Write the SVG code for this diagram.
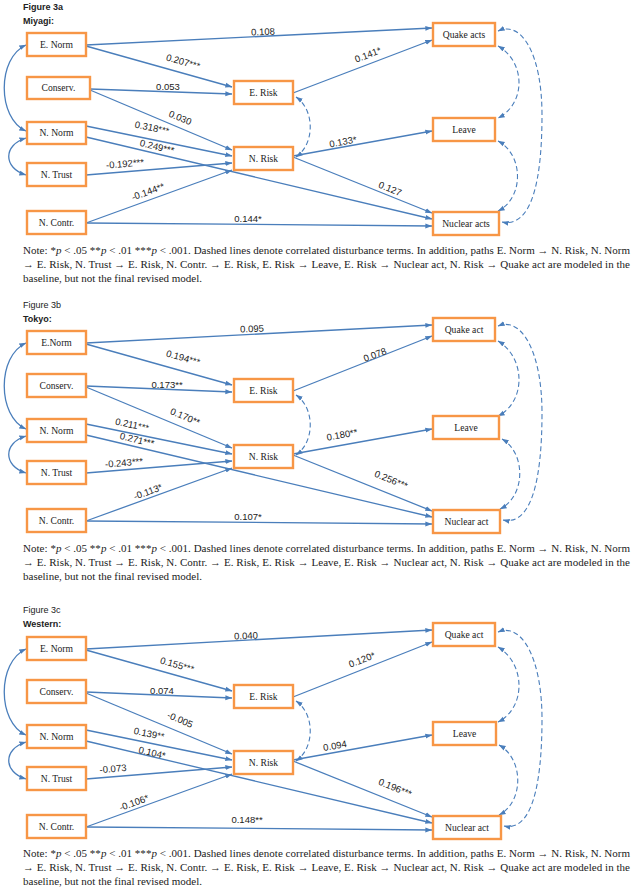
<svg xmlns="http://www.w3.org/2000/svg" width="634" height="891" viewBox="0 0 634 891">
<defs>
<marker id="ah" viewBox="0 0 10 10" refX="9.5" refY="5" markerWidth="7" markerHeight="7" markerUnits="userSpaceOnUse" orient="auto-start-reverse"><path d="M0,1.5 L10,5 L0,8.5 z" fill="#4A7EBB"/></marker>
</defs>
<style>
.box{fill:#fff;stroke:#F79646;stroke-width:2.4}
.nt{font-family:"Liberation Serif","Times New Roman",serif;font-size:9.6px;fill:#222;text-anchor:middle}
.e{fill:none;stroke:#4A7EBB;stroke-width:1.3;marker-end:url(#ah)}
.d{fill:none;stroke:#4A7EBB;stroke-width:1.1;stroke-dasharray:5 3;marker-start:url(#ah);marker-end:url(#ah)}
.c{fill:none;stroke:#4A7EBB;stroke-width:1.3;marker-start:url(#ah);marker-end:url(#ah)}
.lb{font-family:"Liberation Sans",Arial,sans-serif;font-size:9.5px;fill:#222;text-anchor:middle}
.fig{font-family:"Liberation Sans",Arial,sans-serif;font-size:9px;fill:#222}
.b{font-weight:bold}
.note{font-family:"Liberation Serif","Times New Roman",serif;font-size:11px;fill:#222}
.i{font-style:italic}
</style>
<rect width="634" height="891" fill="#fff"/>

<!-- Figure 3a -->
<g id="fig3a">
<text class="fig b" x="23" y="10">Figure 3a</text>
<text class="fig b" x="23" y="24">Miyagi:</text>
<g id="a-edges">
<path class="e" d="M86,45 L432,28"/>
<path class="e" d="M86,46 L232,87"/>
<path class="e" d="M90,89 L232,94"/>
<path class="e" d="M90,90 L232,150"/>
<path class="e" d="M86,126 L232,156"/>
<path class="e" d="M86,137 L432,219"/>
<path class="e" d="M86,175 L232,163"/>
<path class="e" d="M86,223 L232,170"/>
<path class="e" d="M86,223 L432,226"/>
<path class="e" d="M293,93 L432,40"/>
<path class="e" d="M293,156 L432,131"/>
<path class="e" d="M293,157 L432,213"/>
<path class="c" d="M26,45 C-3,58 -3,118 26,131"/>
<path class="c" d="M26,138 C3,145 3,168 26,175"/>
<path class="d" d="M296,97 C315,110 315,144 296,157"/>
<path class="d" d="M498,46 C526,62 526,104 498,118"/>
<path class="d" d="M498,141 C524,155 524,198 498,211"/>
<path class="d" d="M498,31 C522,20 542,55 542,115 C542,180 532,228 502,222"/>
<text class="lb" transform="translate(263,32) rotate(-2.8)" y="3">0.108</text>
<text class="lb" transform="translate(183,62) rotate(15.7)" y="3">0.207***</text>
<text class="lb" transform="translate(168,87)" y="3">0.053</text>
<text class="lb" transform="translate(180,118) rotate(22.9)" y="3">0.030</text>
<text class="lb" transform="translate(152,128) rotate(11.6)" y="3">0.318***</text>
<text class="lb" transform="translate(157,147) rotate(13.5)" y="3">0.249***</text>
<text class="lb" transform="translate(125,164) rotate(-4.7)" y="3">-0.192***</text>
<text class="lb" transform="translate(148,192) rotate(-20)" y="3">-0.144**</text>
<text class="lb" transform="translate(248,219)" y="3">0.144*</text>
<text class="lb" transform="translate(368,55) rotate(-20.9)" y="3">0.141*</text>
<text class="lb" transform="translate(343,142) rotate(-10.2)" y="3">0.133*</text>
<text class="lb" transform="translate(390,189) rotate(22)" y="3">0.127</text>
</g>
<g id="a-enorm"><rect class="box" x="27" y="33" width="59" height="23"/><text class="nt" x="56.5" y="48">E. Norm</text></g>
<g id="a-conserv"><rect class="box" x="27" y="77" width="63" height="22"/><text class="nt" x="58.5" y="91">Conserv.</text></g>
<g id="a-nnorm"><rect class="box" x="27" y="122" width="59" height="22"/><text class="nt" x="56.5" y="136">N. Norm</text></g>
<g id="a-ntrust"><rect class="box" x="27" y="163" width="59" height="23"/><text class="nt" x="56.5" y="178">N. Trust</text></g>
<g id="a-ncontr"><rect class="box" x="27" y="211" width="59" height="23"/><text class="nt" x="56.5" y="226">N. Contr.</text></g>
<g id="a-erisk"><rect class="box" x="234" y="81" width="59" height="23"/><text class="nt" x="263.5" y="96">E. Risk</text></g>
<g id="a-nrisk"><rect class="box" x="234" y="147" width="59" height="23"/><text class="nt" x="263.5" y="162">N. Risk</text></g>
<g id="a-quake"><rect class="box" x="433" y="23" width="62" height="23"/><text class="nt" x="464" y="38">Quake acts</text></g>
<g id="a-leave"><rect class="box" x="433" y="118" width="62" height="23"/><text class="nt" x="464" y="133">Leave</text></g>
<g id="a-nuclear"><rect class="box" x="433" y="212" width="66" height="23"/><text class="nt" x="466" y="227">Nuclear acts</text></g>
<text class="note" x="23" y="254" textLength="607" lengthAdjust="spacing">Note: *<tspan class="i">p</tspan> &lt; .05 **<tspan class="i">p</tspan> &lt; .01 ***<tspan class="i">p</tspan> &lt; .001. Dashed lines denote correlated disturbance terms. In addition, paths E. Norm → N. Risk, N. Norm</text>
<text class="note" x="23" y="268" textLength="607" lengthAdjust="spacing">→ E. Risk, N. Trust → E. Risk, N. Contr. → E. Risk, E. Risk → Leave, E. Risk → Nuclear act, N. Risk → Quake act are modeled in the</text>
<text class="note" x="23" y="282">baseline, but not the final revised model.</text>
</g>

<!-- Figure 3b -->
<g id="fig3b" transform="translate(0,298)">
<text class="fig" x="23" y="10">Figure 3b</text>
<text class="fig b" x="23" y="24">Tokyo:</text>
<g id="b-edges">
<path class="e" d="M86,45 L432,27"/>
<path class="e" d="M86,46 L232,87"/>
<path class="e" d="M86,88 L232,94"/>
<path class="e" d="M86,89 L232,150"/>
<path class="e" d="M86,126 L232,156"/>
<path class="e" d="M86,137 L432,219"/>
<path class="e" d="M86,175 L232,163"/>
<path class="e" d="M86,223 L232,170"/>
<path class="e" d="M86,223 L432,226"/>
<path class="e" d="M293,93 L432,38"/>
<path class="e" d="M293,156 L432,131"/>
<path class="e" d="M293,157 L432,213"/>
<path class="c" d="M26,45 C-3,58 -3,118 26,131"/>
<path class="c" d="M26,138 C3,145 3,168 26,175"/>
<path class="d" d="M296,97 C315,110 315,144 296,157"/>
<path class="d" d="M498,43 C526,60 526,104 498,118"/>
<path class="d" d="M502,141 C526,155 526,198 500,211"/>
<path class="d" d="M498,28 C522,18 542,55 542,115 C542,180 532,228 503,222"/>
<text class="lb" transform="translate(252,31) rotate(-2.8)" y="3">0.095</text>
<text class="lb" transform="translate(183,60) rotate(15.7)" y="3">0.194***</text>
<text class="lb" transform="translate(167,87)" y="3">0.173**</text>
<text class="lb" transform="translate(185,119) rotate(22.9)" y="3">0.170**</text>
<text class="lb" transform="translate(132,127) rotate(11.6)" y="3">0.211***</text>
<text class="lb" transform="translate(137,142) rotate(13.5)" y="3">0.271***</text>
<text class="lb" transform="translate(124,165) rotate(-4.7)" y="3">-0.243***</text>
<text class="lb" transform="translate(148,194) rotate(-20)" y="3">-0.113*</text>
<text class="lb" transform="translate(248,219)" y="3">0.107*</text>
<text class="lb" transform="translate(375,57) rotate(-20.9)" y="3">0.078</text>
<text class="lb" transform="translate(342,137) rotate(-10.2)" y="3">0.180**</text>
<text class="lb" transform="translate(391,182) rotate(22)" y="3">0.256***</text>
</g>
<g id="b-enorm"><rect class="box" x="27" y="33" width="59" height="23"/><text class="nt" x="56.5" y="48">E.Norm</text></g>
<g id="b-conserv"><rect class="box" x="27" y="76" width="59" height="23"/><text class="nt" x="56.5" y="91">Conserv.</text></g>
<g id="b-nnorm"><rect class="box" x="27" y="121" width="59" height="23"/><text class="nt" x="56.5" y="136">N. Norm</text></g>
<g id="b-ntrust"><rect class="box" x="27" y="163" width="59" height="23"/><text class="nt" x="56.5" y="178">N. Trust</text></g>
<g id="b-ncontr"><rect class="box" x="27" y="211" width="59" height="23"/><text class="nt" x="56.5" y="226">N. Contr.</text></g>
<g id="b-erisk"><rect class="box" x="234" y="81" width="59" height="23"/><text class="nt" x="263.5" y="96">E. Risk</text></g>
<g id="b-nrisk"><rect class="box" x="234" y="147" width="59" height="23"/><text class="nt" x="263.5" y="162">N. Risk</text></g>
<g id="b-quake"><rect class="box" x="433" y="20" width="62" height="23"/><text class="nt" x="464" y="35">Quake act</text></g>
<g id="b-leave"><rect class="box" x="433" y="118" width="66" height="23"/><text class="nt" x="466" y="133">Leave</text></g>
<g id="b-nuclear"><rect class="box" x="433" y="212" width="67" height="23"/><text class="nt" x="466.5" y="227">Nuclear act</text></g>
<text class="note" x="23" y="254" textLength="607" lengthAdjust="spacing">Note: *<tspan class="i">p</tspan> &lt; .05 **<tspan class="i">p</tspan> &lt; .01 ***<tspan class="i">p</tspan> &lt; .001. Dashed lines denote correlated disturbance terms. In addition, paths E. Norm → N. Risk, N. Norm</text>
<text class="note" x="23" y="268" textLength="607" lengthAdjust="spacing">→ E. Risk, N. Trust → E. Risk, N. Contr. → E. Risk, E. Risk → Leave, E. Risk → Nuclear act, N. Risk → Quake act are modeled in the</text>
<text class="note" x="23" y="282">baseline, but not the final revised model.</text>
</g>

<!-- Figure 3c -->
<g id="fig3c" transform="translate(0,604)">
<text class="fig" x="23" y="9">Figure 3c</text>
<text class="fig b" x="23" y="23">Western:</text>
<g id="c-edges">
<path class="e" d="M86,45 L432,26"/>
<path class="e" d="M86,46 L232,87"/>
<path class="e" d="M86,88 L232,94"/>
<path class="e" d="M86,89 L232,150"/>
<path class="e" d="M86,126 L232,156"/>
<path class="e" d="M86,137 L432,219"/>
<path class="e" d="M86,175 L232,163"/>
<path class="e" d="M86,223 L232,170"/>
<path class="e" d="M86,223 L432,226"/>
<path class="e" d="M293,93 L432,38"/>
<path class="e" d="M293,156 L432,131"/>
<path class="e" d="M293,157 L432,213"/>
<path class="c" d="M26,45 C-3,58 -3,118 26,131"/>
<path class="c" d="M26,138 C3,145 3,168 26,175"/>
<path class="d" d="M296,97 C315,110 315,144 296,157"/>
<path class="d" d="M498,43 C526,60 526,104 498,118"/>
<path class="d" d="M499,141 C524,155 524,198 499,211"/>
<path class="d" d="M498,28 C522,18 542,55 542,115 C542,180 532,228 504,222"/>
<text class="lb" transform="translate(246,32) rotate(-2.8)" y="3">0.040</text>
<text class="lb" transform="translate(177,61) rotate(15.7)" y="3">0.155***</text>
<text class="lb" transform="translate(162,87)" y="3">0.074</text>
<text class="lb" transform="translate(180,116) rotate(22.9)" y="3">-0.005</text>
<text class="lb" transform="translate(149,130) rotate(11.6)" y="3">0.139**</text>
<text class="lb" transform="translate(152,149) rotate(13.5)" y="3">0.104*</text>
<text class="lb" transform="translate(113,165) rotate(-4.7)" y="3">-0.073</text>
<text class="lb" transform="translate(134,199) rotate(-20)" y="3">-0.106*</text>
<text class="lb" transform="translate(247,216)" y="3">0.148**</text>
<text class="lb" transform="translate(362,56) rotate(-20.9)" y="3">0.120*</text>
<text class="lb" transform="translate(335,142) rotate(-10.2)" y="3">0.094</text>
<text class="lb" transform="translate(395,184) rotate(22)" y="3">0.196***</text>
</g>
<g id="c-enorm"><rect class="box" x="27" y="33" width="59" height="23"/><text class="nt" x="56.5" y="48">E. Norm</text></g>
<g id="c-conserv"><rect class="box" x="27" y="76" width="59" height="23"/><text class="nt" x="56.5" y="91">Conserv.</text></g>
<g id="c-nnorm"><rect class="box" x="27" y="121" width="59" height="23"/><text class="nt" x="56.5" y="136">N. Norm</text></g>
<g id="c-ntrust"><rect class="box" x="27" y="163" width="59" height="23"/><text class="nt" x="56.5" y="178">N. Trust</text></g>
<g id="c-ncontr"><rect class="box" x="27" y="211" width="59" height="23"/><text class="nt" x="56.5" y="226">N. Contr.</text></g>
<g id="c-erisk"><rect class="box" x="234" y="81" width="59" height="23"/><text class="nt" x="263.5" y="96">E. Risk</text></g>
<g id="c-nrisk"><rect class="box" x="234" y="147" width="59" height="23"/><text class="nt" x="263.5" y="162">N. Risk</text></g>
<g id="c-quake"><rect class="box" x="433" y="19" width="62" height="23"/><text class="nt" x="464" y="34">Quake act</text></g>
<g id="c-leave"><rect class="box" x="433" y="118" width="63" height="23"/><text class="nt" x="464.5" y="133">Leave</text></g>
<g id="c-nuclear"><rect class="box" x="433" y="212" width="68" height="23"/><text class="nt" x="467" y="227">Nuclear act</text></g>
<text class="note" x="23" y="253" textLength="607" lengthAdjust="spacing">Note: *<tspan class="i">p</tspan> &lt; .05 **<tspan class="i">p</tspan> &lt; .01 ***<tspan class="i">p</tspan> &lt; .001. Dashed lines denote correlated disturbance terms. In addition, paths E. Norm → N. Risk, N. Norm</text>
<text class="note" x="23" y="267" textLength="607" lengthAdjust="spacing">→ E. Risk, N. Trust → E. Risk, N. Contr. → E. Risk, E. Risk → Leave, E. Risk → Nuclear act, N. Risk → Quake act are modeled in the</text>
<text class="note" x="23" y="281">baseline, but not the final revised model.</text>
</g>
</svg>
